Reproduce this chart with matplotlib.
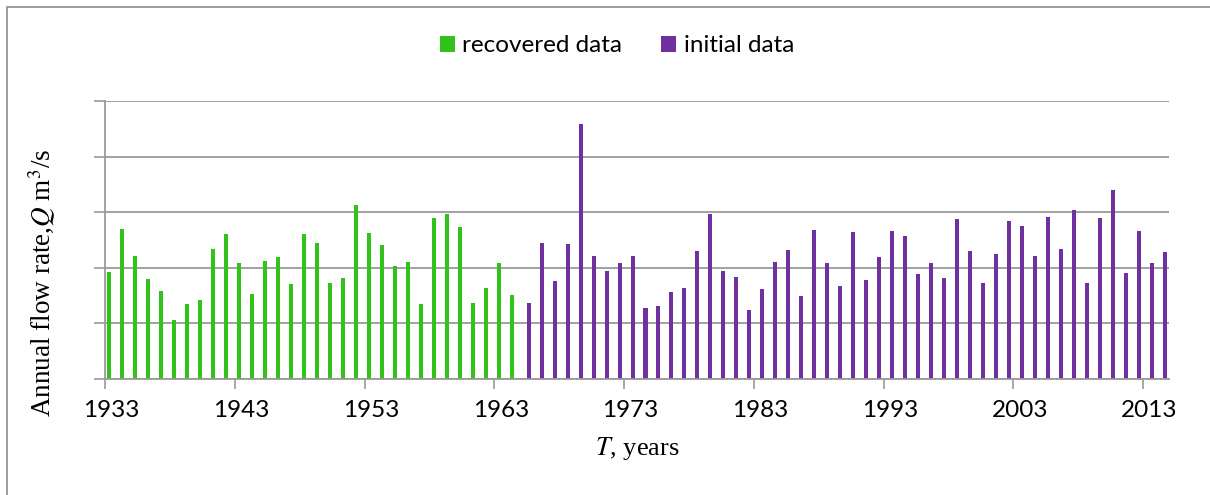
import numpy as np
import matplotlib
matplotlib.use("Agg")
import matplotlib.pyplot as plt
from matplotlib.patches import Rectangle

# ------------------------------------------------------------
# datos (unidades = lineas de la rejilla)
# ------------------------------------------------------------
years_recovered = list(range(1933, 1965))
q_recovered = [1.92, 2.69, 2.22, 1.79, 1.58, 1.06, 1.34, 1.42, 2.33, 2.60,
               2.09, 1.53, 2.13, 2.20, 1.70, 2.61, 2.44, 1.72, 1.81, 3.13,
               2.63, 2.41, 2.04, 2.10, 1.35, 2.90, 2.96, 2.73, 1.37, 1.63,
               2.09, 1.51]

years_initial = list(range(1965, 2015))
q_initial = [1.37, 2.44, 1.76, 2.43, 4.58, 2.21, 1.95, 2.08, 2.21, 1.28,
             1.32, 1.56, 1.63, 2.30, 2.96, 1.94, 1.83, 1.24, 1.62, 2.10,
             2.32, 1.50, 2.68, 2.09, 1.68, 2.64, 1.78, 2.20, 2.67, 2.57,
             1.88, 2.09, 1.82, 2.87, 2.31, 1.73, 2.24, 2.85, 2.75, 2.22,
             2.91, 2.33, 3.04, 1.72, 2.90, 3.40, 1.91, 2.66, 2.08, 2.28]

tick_years = list(range(1933, 2014, 10))

GREEN = "#31C31A"
PURPLE = "#7030A0"
GRID = "#9a9a9a"

plt.rcParams["mathtext.fontset"] = "stix"

fig = plt.figure(figsize=(12.1, 4.95), dpi=100)
W, H = 1210, 495
ax = fig.add_axes([105 / W, (H - 379) / H, (1169 - 105) / W, (379 - 101) / H])

first = years_recovered[0]
bw = 0.31
x_rec = np.array(years_recovered) - first
x_ini = np.array(years_initial) - first
ax.bar(x_rec - bw / 2, q_recovered, width=bw, color=GREEN, label="recovered data")
ax.bar(x_ini + bw / 2, q_initial, width=bw, color=PURPLE, label="initial data")

n_cat = years_initial[-1] - first + 1
ax.set_xlim(-0.5, n_cat - 0.5)
ax.set_ylim(0, 5)

# rejilla horizontal
ax.set_yticks(np.arange(0, 6, 1))
ax.set_yticklabels([])
ax.yaxis.grid(True, color=GRID, lw=1.3)
ax.set_axisbelow(True)
ax.tick_params(axis="y", length=8, color=GRID, width=1.2)

# marcas en los limites de categoria, etiquetas en el centro
tick_idx = np.array(tick_years) - first
ax.set_xticks(tick_idx - 0.5)
ax.set_xticklabels([])
ax.set_xticks(tick_idx, minor=True)
ax.set_xticklabels([str(y) for y in tick_years], minor=True,
                   fontsize=17.5, family="Lato")
ax.tick_params(axis="x", which="major", length=7, color=GRID, width=1.2)
ax.tick_params(axis="x", which="minor", length=0, pad=15)

for s in ["top", "right"]:
    ax.spines[s].set_visible(False)
for s in ["left", "bottom"]:
    ax.spines[s].set_color(GRID)
    ax.spines[s].set_linewidth(1.3)

ax.set_xlabel("$T$, years", fontsize=19, family="Liberation Serif", labelpad=10)
ax.set_ylabel("Annual flow rate,$Q$ m$^3$/s", fontsize=19.5,
              family="Liberation Serif")
ax.yaxis.set_label_coords(-0.044, 0.347)

fig.legend(loc="center", bbox_to_anchor=(617 / W, 1 - 46 / H), ncol=2,
           frameon=False, prop={"family": "Lato", "size": 17.5},
           handlelength=0.62, handleheight=0.62, handletextpad=0.3,
           columnspacing=1.6)

# borde del grafico
fig.patches.append(Rectangle((7 / W, -0.1), 1.2, 1.1 - 7 / H,
                             transform=fig.transFigure, fill=False,
                             edgecolor="#8c8c8c", lw=1.2))

fig.savefig("out.png", dpi=100)
